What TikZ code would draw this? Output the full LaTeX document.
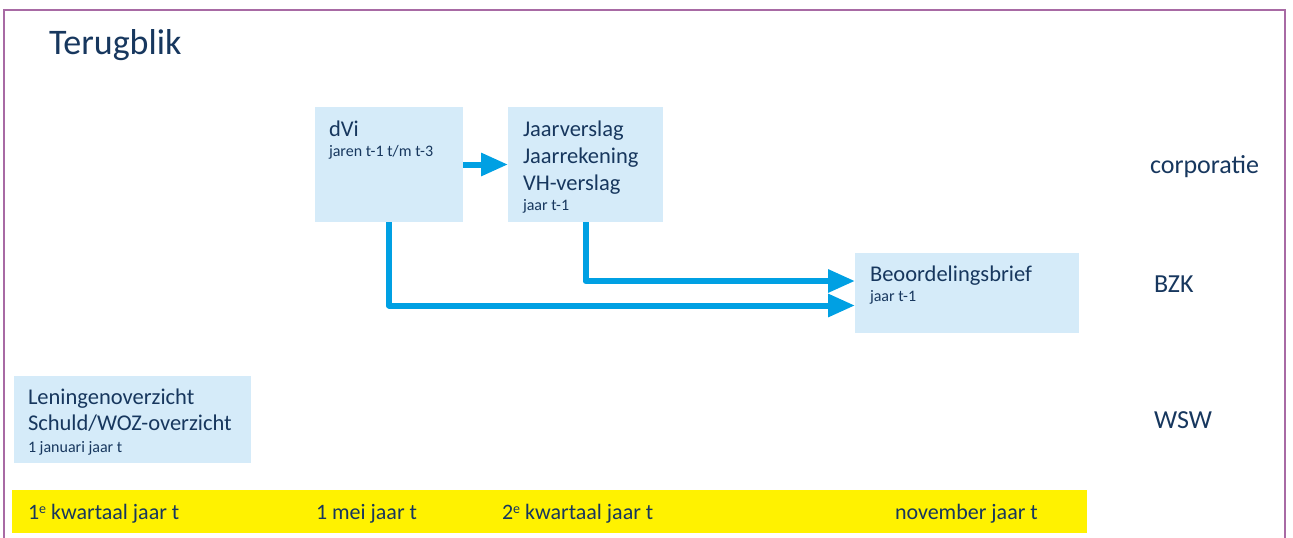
\documentclass[tikz,border=0pt]{standalone}
\usepackage{fontspec}
\setmainfont{Carlito}
\usepackage{tikz}
\usetikzlibrary{arrows.meta,positioning}

\definecolor{navy}{RGB}{23,55,94}
\definecolor{boxblue}{RGB}{213,235,249}
\definecolor{flowblue}{RGB}{0,160,227}
\definecolor{framepurple}{RGB}{168,106,164}
\newcommand{\subtxt}{\fontsize{16}{19}\selectfont}
\newcommand{\rangnr}[1]{\raisebox{6pt}{\fontsize{14}{14}\selectfont #1}}

\begin{document}
\begin{tikzpicture}[x=1pt,y=-1pt,
every node/.style={inner sep=0pt,outer sep=0pt,text=navy},
box/.style={fill=boxblue,anchor=north west},
boxtext/.style={font=\fontsize{22.5}{27}\selectfont,align=left,anchor=base west},
side/.style={font=\fontsize{26}{30}\selectfont,anchor=base west},
period/.style={font=\fontsize{22}{26}\selectfont,anchor=base west},
flow/.style={flowblue,line width=6pt,line join=round,-{Triangle[length=27pt,width=22pt]}}]
\useasboundingbox (0,0) rectangle (1293,538);
\begin{scope}
\clip (0,0) rectangle (1293,538);
\draw[framepurple,line width=2.5pt] (4,10) rectangle (1285,600);
\end{scope}

\node[anchor=base west,font=\fontsize{36}{40}\selectfont] (title) at (49,54) {Terugblik};

\node[box,minimum width=148pt,minimum height=115pt] (dvi) at (315,107) {};
\node[box,minimum width=155pt,minimum height=115pt] (jv) at (508,107) {};
\node[box,minimum width=224pt,minimum height=80pt] (bb) at (855,253) {};
\node[box,minimum width=237pt,minimum height=87pt] (wsw) at (14,376) {};

\node[boxtext] (dvi-t) at (329,156) {dVi\\[-7pt]{\subtxt jaren t-1 t/m t-3}};
\node[boxtext] (jv-t) at (523,210) {Jaarverslag\\Jaarrekening\\VH-verslag\\[-7pt]{\subtxt jaar t-1}};
\node[boxtext] (bb-t) at (870,301) {Beoordelingsbrief\\[-7pt]{\subtxt jaar t-1}};
\node[boxtext] (wsw-t) at (28,452) {Leningenoverzicht\\[-1pt]Schuld/WOZ-overzicht\\[-5pt]{\subtxt 1 januari jaar t}};

\node[side] (corp) at (1150,173) {corporatie};
\node[side] (bzk) at (1154,292) {BZK};
\node[side] (wsw-l) at (1154,428) {WSW};

\draw[flow] (dvi.east) -- (jv.west);
\draw[flow] (jv.south) |- ([yshift=12pt]bb.west);
\draw[flow] (dvi.south) |- ([yshift=-12.5pt]bb.west);

\node[fill=yellow,anchor=north west,minimum width=1075pt,minimum height=43pt] (band) at (12,490) {};
\node[period] (q1) at (28,519) {1\rangnr{e} kwartaal jaar t};
\node[period] (mei) at (316,519) {1 mei jaar t};
\node[period] (q2) at (502,519) {2\rangnr{e} kwartaal jaar t};
\node[period] (nov) at (895,519) {november jaar t};
\end{tikzpicture}
\end{document}
